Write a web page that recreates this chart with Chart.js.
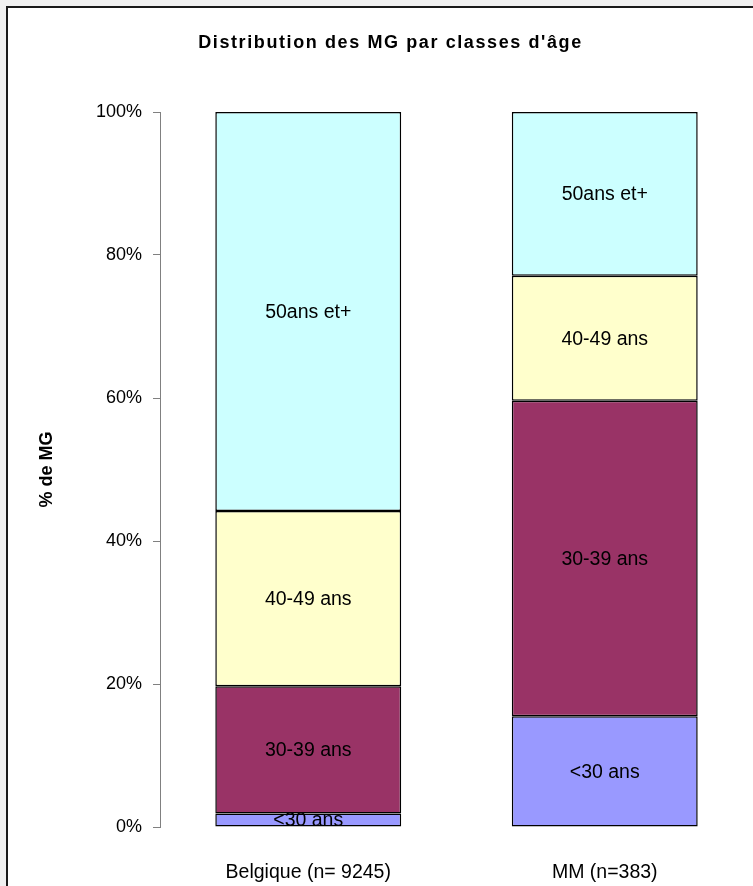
<!DOCTYPE html>
<html>
<head>
<meta charset="utf-8">
<script src="https://cdn.jsdelivr.net/npm/chart.js@4"></script>
<style>
    html, body { margin: 0; padding: 0; background: #f0f0f0; overflow: hidden; }
    #frame {
        position: absolute; left: 6px; top: 6px;
        width: 800px; height: 900px;
        background: #fff; border: 2px solid #1a1a1a;
    }
    #wrap { position: absolute; left: 0; top: 0; width: 753px; height: 886px; }
</style>
</head>
<body>
<div id="frame"></div>
<div id="wrap"><canvas id="chart"></canvas></div>
<script>
// ── Data ──────────────────────────────────────────────────────────────────────
const categories = ["Belgique (n= 9245)", "MM (n=383)"];
const ageClasses = ["<30 ans", "30-39 ans", "40-49 ans", "50ans et+"];
const under30    = [1.9, 15.5];
const age30to39  = [17.8, 44.1];
const age40to49  = [24.5, 17.5];
const age50plus  = [55.8, 22.9];
const yTicks     = [0, 20, 40, 60, 80, 100];

const colors = ["#9999FF", "#993366", "#FFFFCC", "#CCFFFF"];
const FONT = "'Liberation Sans', Arial, sans-serif";

// labels written in the middle of each segment
const segmentLabels = {
    id: "segmentLabels",
    afterDatasetsDraw(chart) {
        const ctx = chart.ctx;
        ctx.save();
        ctx.font = "19.5px " + FONT;
        ctx.fillStyle = "#000";
        ctx.textAlign = "center";
        ctx.textBaseline = "middle";
        chart.data.datasets.forEach((ds, i) => {
            chart.getDatasetMeta(i).data.forEach(bar => {
                const mid = (bar.y + bar.base) / 2;
                ctx.fillText(ds.label, bar.x, mid + 1);
            });
        });
        ctx.restore();
    }
};

const seriesValues = [under30, age30to39, age40to49, age50plus];

const chart = new Chart(document.getElementById("chart"), {
    type: "bar",
    data: {
        labels: categories,
        datasets: ageClasses.map((name, i) => ({
            label: name,
            data: seriesValues[i],
            backgroundColor: colors[i],
            borderColor: "#000",
            borderWidth: 1.5,
            borderSkipped: false,
            barPercentage: 0.627,
            categoryPercentage: 1
        }))
    },
    options: {
        responsive: true,
        maintainAspectRatio: false,
        animation: false,
        layout: { padding: 0 },
        plugins: {
            legend: { display: false },
            tooltip: { enabled: false },
            title: {
                display: true,
                text: "Distribution des MG par classes d'âge",
                color: "#000",
                font: { family: FONT, size: 18, weight: "bold" },
                padding: { top: 32, bottom: 58.4 }
            }
        },
        scales: {
            x: {
                stacked: true,
                grid: { display: false, drawTicks: false },
                border: { display: false },
                ticks: { color: "#000", font: { family: FONT, size: 19.5 }, padding: 34 },
                afterFit: s => { s.height = 59; }
            },
            y: {
                stacked: true,
                min: 0,
                max: 100,
                afterBuildTicks: s => { s.ticks = yTicks.map(v => ({ value: v })); },
                grid: { drawOnChartArea: false, color: "#808080", tickLength: 7 },
                border: { color: "#808080", width: 1 },
                ticks: {
                    color: "#000",
                    font: { family: FONT, size: 18 },
                    padding: 11,
                    callback: v => v + "%"
                },
                title: {
                    display: true,
                    text: "% de MG",
                    color: "#000",
                    font: { family: FONT, size: 18, weight: "bold" },
                    padding: { top: 36, bottom: 0 }
                },
                afterFit: s => { s.width = 160; }
            }
        }
    },
    plugins: [segmentLabels]
});

// the original title is letter-spaced and centred on the whole (wider) chart frame
const drawTitle = chart.titleBlock.draw.bind(chart.titleBlock);
chart.titleBlock.draw = function () {
    const ctx = this.ctx;
    const prev = ctx.letterSpacing;
    ctx.save();
    ctx.letterSpacing = "1.6px";
    ctx.translate(14, 0);
    drawTitle();
    ctx.restore();
    ctx.letterSpacing = prev;
};
chart.draw();
</script>
</body>
</html>
